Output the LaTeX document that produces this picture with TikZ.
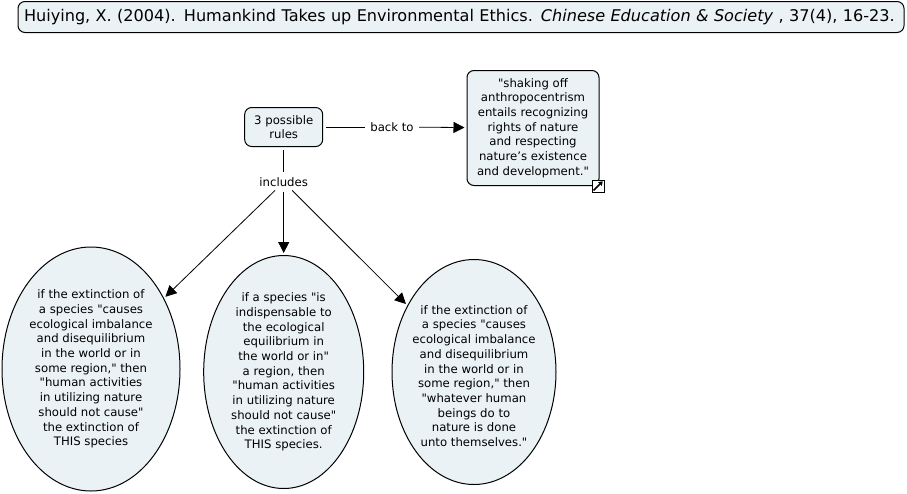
\documentclass[tikz,border=0pt]{standalone}
\usepackage{fontspec}
\setmainfont[Ligatures=TeXOff]{DejaVu Sans}
\usetikzlibrary{arrows.meta,shapes.geometric}
\definecolor{conceptfill}{HTML}{EBF2F5}
\tikzset{
	main node/.style={draw=black,fill=conceptfill,line width=1pt,align=center,font=\fontsize{11.7}{14.7}\selectfont},
	box node/.style={main node,rectangle,rounded corners=7pt,inner sep=0pt},
	oval node/.style={main node,ellipse,inner sep=-14pt},
	link node/.style={inner sep=0pt,font=\fontsize{11.7}{14.7}\selectfont},
}

\begin{document}
\begin{tikzpicture}[x=1pt,y=-1pt,->,>={Triangle[length=11pt,width=11pt]},line width=0.8pt]
	\useasboundingbox (0,0) rectangle (907,493);
	
	\node[box node,minimum width=886pt,minimum height=31pt,text width=874pt,align=left,font=\fontsize{16.1}{18}\selectfont] (title) at (461,17) {Huiying, X. (2004). Humankind Takes up Environmental Ethics. \textit{Chinese Education \& Society} , 37(4), 16-23.};
	\node[box node,minimum width=78pt,minimum height=39pt] (rules) at (283.7,127) {3 possible\\rules};
	\node[box node,minimum width=132pt,minimum height=115pt] (quote) at (533,128) {"shaking off\\anthropocentrism\\entails recognizing\\rights of nature\\and respecting\\nature’s existence\\and development."};
	\node[draw=black,fill=white,line width=1pt,minimum size=12pt,inner sep=0pt] (icon) at (598,186) {};
	
	\node[link node] (backto) at (392,127) {back to};
	\node[link node] (includes) at (283.7,182) {includes};
	
	\node[oval node,minimum width=178pt,minimum height=244pt] (left) at (91,369) {if the extinction of\\a species "causes\\ecological imbalance\\and disequilibrium\\in the world or in\\some region," then\\"human activities\\in utilizing nature\\should not cause"\\the extinction of\\THIS species};
	\node[oval node,minimum width=160pt,minimum height=233pt] (middle) at (283.7,372) {if a species "is\\indispensable to\\the ecological\\equilibrium in\\the world or in"\\a region, then\\"human activities\\in utilizing nature\\should not cause"\\the extinction of\\THIS species.};
	\node[oval node,minimum width=164pt,minimum height=225pt] (right) at (474,372) {\rule{0pt}{17pt}if the extinction of\\a species "causes\\ecological imbalance\\and disequilibrium\\in the world or in\\some region," then\\"whatever human\\beings do to\\nature is done\\unto themselves."};
	
	% connectors
	\path[-,shorten <=3pt,shorten >=5pt]
	(rules) edge (backto)
	(rules) edge (includes)
	;
	\path[shorten <=5pt,shorten >=2pt]
	(backto) edge (quote)
	(includes) edge (middle)
	(includes) edge (left)
	(includes) edge (right)
	;
	\draw[line width=1.6pt,-{Triangle[length=4pt,width=5pt]},shorten <=3pt,shorten >=2.5pt] (icon.south west) -- (icon.north east);
\end{tikzpicture}
\end{document}
